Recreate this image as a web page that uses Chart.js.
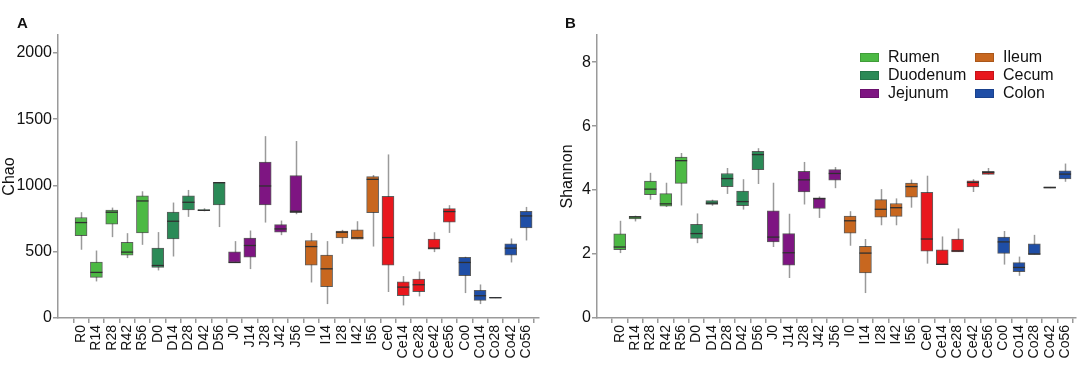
<!DOCTYPE html>
<html>
<head>
<meta charset="utf-8">
<script src="https://cdn.jsdelivr.net/npm/chart.js@4.4.1/dist/chart.umd.min.js"></script>
<style>
    body { margin: 0; width: 1084px; height: 366px; position: relative; background: #fff; overflow: hidden;
           font-family: "Liberation Sans", Arial, sans-serif; color: #111; }
    .panel { position: absolute; top: 0; height: 366px; }
    #wrapA { left: 0; width: 545px; }
    #wrapB { left: 545px; width: 539px; }
    .tag { position: absolute; top: 14px; font-weight: bold; font-size: 15px; }
    #legend { position: absolute; left: 860px; top: 48px; display: grid; grid-auto-flow: column;
              grid-template-columns: 115px 100px; grid-template-rows: repeat(3, 18px); }
    .item { display: flex; align-items: center; font-size: 16px; line-height: 18px; }
    .sw { width: 17px; height: 7px; margin-right: 9px; border: 1px solid rgba(0,0,0,0.15); }
</style>
</head>
<body>
<div class="panel" id="wrapA"><canvas id="chartA"></canvas></div>
<div class="panel" id="wrapB"><canvas id="chartB"></canvas></div>
<div class="tag" style="left:17px">A</div>
<div class="tag" style="left:565px">B</div>
<div id="legend"></div>
<script>
const categories = ["R0", "R14", "R28", "R42", "R56", "D0", "D14", "D28", "D42", "D56",
    "J0", "J14", "J28", "J42", "J56", "I0", "I14", "I28", "I42", "I56",
    "Ce0", "Ce14", "Ce28", "Ce42", "Ce56", "Co0", "Co14", "Co28", "Co42", "Co56"];
const groupNames = ["Rumen", "Duodenum", "Jejunum", "Ileum", "Cecum", "Colon"];
const groupColors = ["#4cb944", "#2b8a57", "#7e1582", "#c8671f", "#e8171d", "#1f4ea6"];

// Chao richness
const chaoTicks = [0, 500, 1000, 1500, 2000];
const chaoMin = [515, 276, 610, 452, 552, 359, 464, 763, 805, 686, 419, 369, 720, 625, 783, 268, 105, 560, 595, 539, 196, 95, 163, 497, 642, 188, 105, 150, 419, 585];
const chaoQ1 = [622, 306, 708, 474, 642, 381, 597, 815, 810, 853, 419, 459, 853, 647, 795, 399, 236, 605, 595, 795, 399, 168, 198, 519, 723, 319, 133, 151, 474, 680];
const chaoMed = [720, 344, 798, 497, 883, 396, 730, 873, 812, 1021, 419, 547, 996, 672, 805, 539, 371, 647, 605, 1046, 607, 233, 251, 527, 803, 419, 168, 153, 527, 770];
const chaoQ3 = [758, 421, 815, 570, 921, 527, 800, 921, 818, 1021, 499, 602, 1177, 705, 1074, 585, 474, 655, 665, 1066, 918, 273, 294, 595, 825, 457, 208, 155, 560, 805];
const chaoMax = [798, 509, 833, 640, 956, 648, 871, 966, 828, 1021, 580, 660, 1372, 735, 1335, 642, 580, 665, 730, 1079, 1234, 316, 351, 647, 851, 462, 253, 155, 600, 838];

// Shannon diversity
const shanTicks = [0, 2, 4, 6, 8];
const shanMin = [2.03, 3.02, 3.70, 3.47, 3.52, 2.34, 3.51, 3.88, 3.39, 4.19, 2.22, 1.25, 3.55, 3.13, 4.06, 2.26, 0.78, 2.90, 2.90, 3.45, 1.70, 1.67, 2.07, 3.94, 4.49, 1.67, 1.32, 1.99, 4.06, 4.26];
const shanQ1 = [2.14, 3.10, 3.86, 3.50, 4.21, 2.49, 3.55, 4.11, 3.51, 4.64, 2.38, 1.65, 3.94, 3.43, 4.31, 2.65, 1.41, 3.15, 3.18, 3.78, 2.09, 1.67, 2.07, 4.10, 4.49, 2.02, 1.45, 1.99, 4.06, 4.35];
const shanMed = [2.22, 3.16, 4.03, 3.57, 4.92, 2.64, 3.59, 4.36, 3.64, 5.11, 2.53, 2.04, 4.32, 3.73, 4.52, 3.04, 2.03, 3.40, 3.45, 4.11, 2.47, 1.68, 2.10, 4.24, 4.55, 2.38, 1.58, 2.00, 4.08, 4.50];
const shanQ3 = [2.63, 3.18, 4.28, 3.89, 5.03, 2.93, 3.67, 4.52, 3.97, 5.21, 3.35, 2.64, 4.59, 3.76, 4.64, 3.19, 2.24, 3.70, 3.58, 4.22, 3.93, 2.13, 2.47, 4.29, 4.59, 2.53, 1.73, 2.32, 4.10, 4.60];
const shanMax = [3.04, 3.20, 4.54, 4.23, 5.16, 3.27, 3.70, 4.69, 4.34, 5.31, 4.23, 3.26, 4.88, 3.80, 4.72, 3.34, 2.47, 4.03, 3.74, 4.33, 4.45, 2.55, 2.80, 4.34, 4.69, 2.72, 1.92, 2.60, 4.10, 4.83];

const axisGray = "#9a9a9a";
const colorOf = (i) => groupColors[Math.floor(i / 5)];

// whiskers behind the boxes, medians on top
const boxParts = {
    id: "boxParts",
    beforeDatasetsDraw(chart, args, opts) {
        const { ctx, scales: { x, y } } = chart;
        ctx.save();
        ctx.strokeStyle = axisGray;
        ctx.lineWidth = 1.5;
        categories.forEach((c, i) => {
            const px = Math.round(x.getPixelForValue(i)) + 0.5;
            ctx.beginPath();
            ctx.moveTo(px, y.getPixelForValue(opts.min[i]));
            ctx.lineTo(px, y.getPixelForValue(opts.max[i]));
            ctx.stroke();
        });
        ctx.restore();
    },
    afterDatasetsDraw(chart, args, opts) {
        const { ctx, scales: { y } } = chart;
        const bars = chart.getDatasetMeta(0).data;
        ctx.save();
        ctx.strokeStyle = "#303030";
        ctx.lineWidth = 1.3;
        bars.forEach((bar, i) => {
            const py = y.getPixelForValue(opts.med[i]);
            ctx.beginPath();
            ctx.moveTo(bar.x - bar.width / 2, py);
            ctx.lineTo(bar.x + bar.width / 2, py);
            ctx.stroke();
        });
        ctx.restore();
    },
};

function makePanel(id, cfg) {
    const ctx = document.getElementById(id).getContext("2d");
    return new Chart(ctx, {
        type: "bar",
        data: {
            datasets: [{
                data: categories.map((c, i) => ({ x: i, y: [cfg.q1[i], cfg.q3[i]] })),
                backgroundColor: categories.map((c, i) => colorOf(i)),
                borderColor: "rgba(40,40,40,0.75)",
                borderWidth: 1,
                borderSkipped: false,
                barThickness: 12,
                grouped: false,
            }],
        },
        plugins: [boxParts],
        options: {
            animation: false,
            responsive: true,
            maintainAspectRatio: false,
            layout: { padding: { top: 35, right: cfg.padRight, left: 0, bottom: 0 } },
            plugins: {
                legend: { display: false },
                tooltip: { enabled: false },
                boxParts: { min: cfg.min, med: cfg.med, max: cfg.max },
            },
            scales: {
                x: {
                    type: "linear",
                    min: cfg.xMin,
                    max: cfg.xMax,
                    border: { color: axisGray, width: 1.5 },
                    grid: { drawOnChartArea: false, drawTicks: true, tickLength: 5, color: axisGray, lineWidth: 1.5 },
                    afterBuildTicks: (scale) => { scale.ticks = categories.map((c, i) => ({ value: i })); },
                    afterFit: (scale) => { scale.height = 48; },
                    ticks: {
                        autoSkip: false,
                        minRotation: 90,
                        maxRotation: 90,
                        padding: 2,
                        color: "#111",
                        font: { family: "Liberation Sans", size: 14 },
                        callback: (v) => categories[v],
                    },
                },
                y: {
                    min: 0,
                    max: cfg.yMax,
                    border: { color: axisGray, width: 1.5 },
                    grid: { drawOnChartArea: false, drawTicks: true, tickLength: 5, color: axisGray, lineWidth: 1.5 },
                    afterBuildTicks: (scale) => { scale.ticks = cfg.ticks.map((v) => ({ value: v })); },
                    afterFit: (scale) => { scale.width = cfg.axisLeft; },
                    ticks: {
                        autoSkip: false,
                        padding: 1,
                        color: "#111",
                        font: { family: "Liberation Sans", size: 16 },
                        callback: (v) => String(v),
                    },
                    title: {
                        display: true,
                        text: cfg.title,
                        color: "#111",
                        padding: { top: cfg.titlePad, bottom: 0 },
                        font: { family: "Liberation Sans", size: 16 },
                    },
                },
            },
        },
    });
}

makePanel("chartA", {
    title: "Chao", ticks: chaoTicks, min: chaoMin, q1: chaoQ1, med: chaoMed, q3: chaoQ3, max: chaoMax,
    yMax: 2135, axisLeft: 58, padRight: 4, xMin: -0.98, xMax: 29.3, titlePad: 0,
});
makePanel("chartB", {
    title: "Shannon", ticks: shanTicks, min: shanMin, q1: shanQ1, med: shanMed, q3: shanQ3, max: shanMax,
    yMax: 8.85, axisLeft: 52, padRight: 6, xMin: -0.96, xMax: 29.2, titlePad: 13,
});

const legend = document.getElementById("legend");
groupNames.forEach((name, g) => {
    const item = document.createElement("div");
    item.className = "item";
    item.innerHTML = '<span class="sw" style="background:' + groupColors[g] + '"></span>' + name;
    legend.appendChild(item);
});
</script>
</body>
</html>
